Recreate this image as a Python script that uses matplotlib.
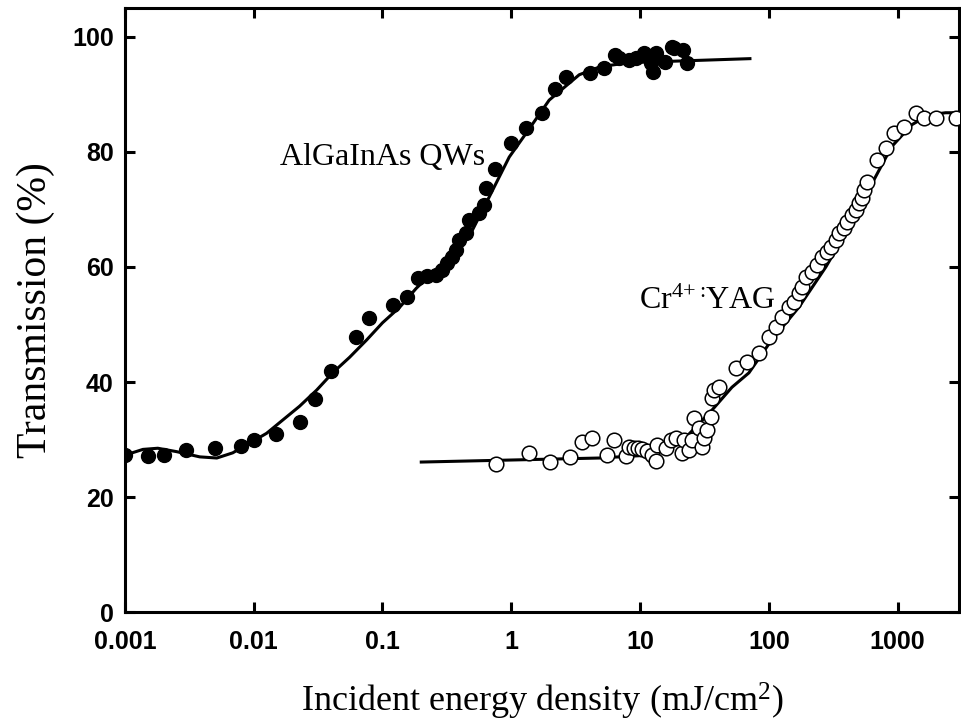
import matplotlib
matplotlib.use("Agg")
import matplotlib.pyplot as plt

# AlGaInAs QWs measured points
qw_x = [0.001, 0.0015, 0.002, 0.003, 0.005, 0.008, 0.010, 0.015, 0.023, 0.030,
        0.040, 0.062, 0.079, 0.12, 0.156, 0.187, 0.223, 0.262, 0.292, 0.319,
        0.349, 0.375, 0.395, 0.448, 0.472, 0.565, 0.618, 0.640, 0.752, 1.0,
        1.31, 1.74, 2.19, 2.67, 4.1, 5.26, 6.4, 6.87, 8.2, 9.31, 10.7, 12.2,
        12.6, 13.3, 15.6, 17.7, 18.4, 21.5, 23.1]
qw_t = [27.3, 27.1, 27.3, 28.2, 28.5, 28.9, 29.9, 31.0, 33.0, 37.1,
        41.9, 47.8, 51.1, 53.4, 54.8, 58.0, 58.4, 58.6, 59.5, 60.7,
        61.8, 63.0, 64.7, 65.9, 68.2, 69.4, 70.8, 73.7, 77.0, 81.6,
        84.2, 86.8, 91.0, 93.0, 93.7, 94.6, 96.9, 96.3, 96.0, 96.3, 97.2, 95.5,
        93.8, 97.2, 95.7, 98.3, 98.0, 97.7, 95.5]

# AlGaInAs QWs fit curve
qw_fit_x = [0.001, 0.00138, 0.0018, 0.00253, 0.00381, 0.00517, 0.00687, 0.00931,
            0.0126, 0.0168, 0.0227, 0.0308, 0.041, 0.0555, 0.0752, 0.100, 0.136,
            0.183, 0.244, 0.330, 0.499, 0.675, 0.964, 1.31, 1.97, 3.37, 4.90,
            8.22, 71.3]
qw_fit_t = [27.3, 28.3, 28.5, 27.9, 27.0, 26.8, 27.7, 29.4,
            31.1, 33.4, 35.8, 38.6, 41.6, 44.3, 47.3, 50.3, 53.0,
            56.3, 59.0, 61.6, 66.4, 72.2, 79.1, 83.3, 89.0, 93.4, 94.8,
            95.5, 96.2]

# Cr4+:YAG measured points
cr_x = [0.765, 1.38, 2.01, 2.87, 3.55, 4.25, 5.55, 6.28, 7.79, 8.22, 8.98, 9.65,
        10.4, 11.3, 12.4, 13.3, 13.6, 15.9, 17.4, 19.0, 21.2, 21.9, 24.0, 25.3,
        26.2, 28.7, 30.3, 31.3, 33.0, 35.5, 36.1, 37.5, 40.9, 55.5, 67.5, 83.6,
        100, 113, 126, 143, 156, 171, 180, 194, 215, 236, 258, 282, 303, 330,
        349, 381, 403, 440, 472, 499, 526, 545, 575, 687, 807, 931, 1113, 1380,
        1592, 1972, 2818]
cr_t = [25.7, 27.6, 26.1, 27.0, 29.6, 30.2, 27.3, 29.9, 27.1, 28.7, 28.5, 28.5,
        28.3, 28.0, 27.3, 26.3, 29.0, 28.5, 29.9, 30.3, 27.6, 29.9, 28.2, 29.9,
        33.7, 32.0, 28.7, 30.3, 31.7, 33.9, 37.2, 38.6, 39.1, 42.4, 43.5, 45.0,
        47.8, 49.6, 51.3, 53.0, 53.9, 55.5, 56.5, 58.3, 59.1, 60.3, 61.7, 62.6,
        63.5, 64.7, 65.9, 66.8, 67.8, 69.0, 69.9, 71.1, 72.0, 73.4, 74.8, 78.6,
        80.7, 83.3, 84.3, 86.8, 85.9, 85.9, 85.9]

# Cr4+:YAG fit curve
cr_fit_x = [0.200, 4.81, 11.7, 22.7, 36.1, 51.7, 70.0, 105, 171, 277, 440, 675,
            898, 1285, 1738, 2355, 3027]
cr_fit_t = [26.1, 26.8, 27.3, 30.4, 35.1, 39.1, 41.6, 47.3, 53.0, 60.0, 67.7, 75.7,
            80.9, 84.7, 86.4, 86.8, 86.8]

x_ticks = [0.001, 0.01, 0.1, 1, 10, 100, 1000]
x_tick_labels = ["0.001", "0.01", "0.1", "1", "10", "100", "1000"]
y_ticks = [0, 20, 40, 60, 80, 100]

plt.rcParams['mathtext.fontset'] = 'custom'
plt.rcParams['mathtext.rm'] = 'Liberation Serif'
plt.rcParams['mathtext.default'] = 'rm'

fig = plt.figure(figsize=(9.61, 7.28), dpi=100)
ax = fig.add_axes([0.130, 0.159, 0.868, 0.830])

ax.plot(qw_fit_x, qw_fit_t, color='black', lw=2.2, zorder=2)
ax.plot(cr_fit_x, cr_fit_t, color='black', lw=2.2, zorder=2)
ax.plot(qw_x, qw_t, linestyle='none', marker='o', ms=10, mfc='black', mec='black', zorder=3)
ax.plot(cr_x, cr_t, linestyle='none', marker='o', ms=10.5, mfc='white', mec='black',
        mew=1.1, zorder=3, clip_on=True)

ax.set_xscale('log')
ax.set_xlim(0.001, 3000)
ax.set_ylim(0, 105)
ax.set_xticks(x_ticks)
ax.set_xticklabels(x_tick_labels)
ax.xaxis.set_minor_locator(matplotlib.ticker.NullLocator())
ax.set_yticks(y_ticks)

for sp in ax.spines.values():
    sp.set_linewidth(2.2)
ax.tick_params(axis='both', which='major', direction='in', length=7, width=2.2,
               top=True, right=True)
ax.tick_params(axis='x', pad=13)
ax.tick_params(axis='y', pad=8)
for lab in ax.get_xticklabels() + ax.get_yticklabels():
    lab.set_fontfamily('Liberation Sans')
    lab.set_fontweight('bold')
    lab.set_fontsize(18)

ax.set_xlabel(r'Incident energy density (mJ/cm$^{2}$)', family='Liberation Serif',
              fontsize=26, labelpad=19)
ax.set_ylabel('Transmission (%)', family='Liberation Serif', fontsize=30, labelpad=12)

ax.text(0.0159, 79.0, 'AlGaInAs QWs', family='Liberation Serif', fontsize=23,
        ha='left', va='center')
ax.text(9.8, 54, r'Cr$^{4{+}{:}}\!$YAG', family='Liberation Serif', fontsize=23,
        ha='left', va='center')

fig.savefig('out.png', dpi=100)
